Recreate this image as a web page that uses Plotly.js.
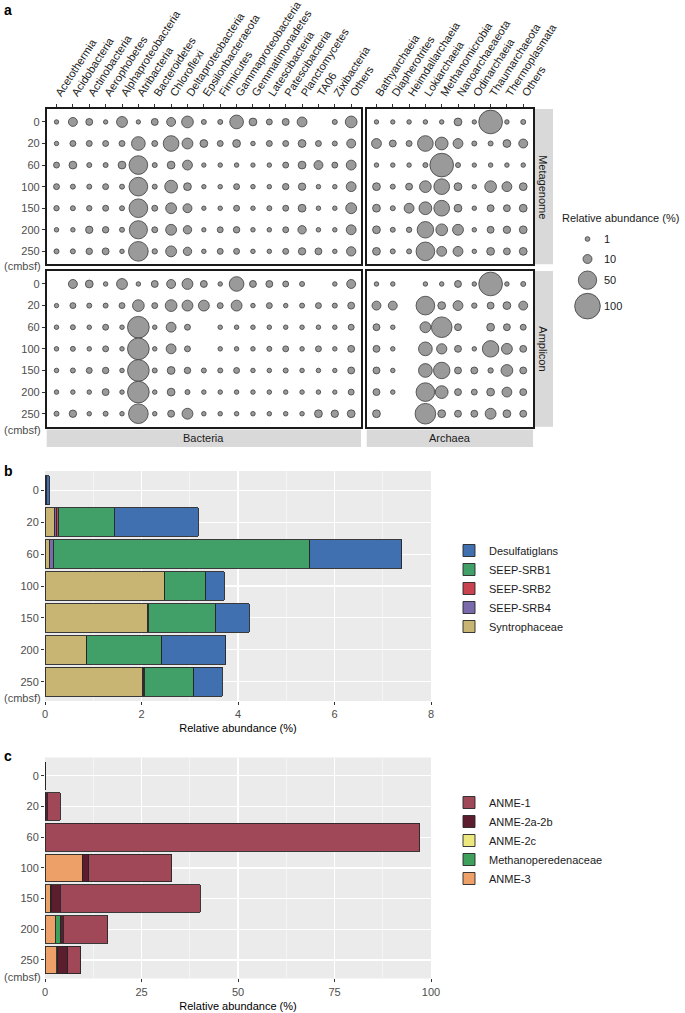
<!DOCTYPE html>
<html><head><meta charset="utf-8">
<script src="https://cdn.plot.ly/plotly-3.0.1.min.js"></script>
<style>html,body{margin:0;padding:0;background:#fff}#chart{width:685px;height:1013px}</style>
</head><body><div id="chart"></div>
<script>
// ---------------- DATA ----------------
const depths = ['0','20','60','100','150','200','250'];
const bacteriaTaxa = ['Acetothermia','Acidobacteria','Actinobacteria','Aerophobetes','Alphaproteobacteria','Atribacteria','Bacteroidetes','Chloroflexi','Deltaproteobacteria','Epsilonbacteraeota','Firmicutes','Gammaproteobacteria','Gemmatimonadetes','Latescibacteria','Patescibacteria','Planctomycetes','TA06','Zixibacteria','Others'];
const archaeaTaxa = ['Bathyarchaeia','Diapherotrites','Heimdallarchaeia','Lokiarchaeia','Methanomicrobia','Nanoarchaeaeota','Odinarchaeia','Thaumarchaeota','Thermoplasmata','Others'];

// relative abundance (%), rows = depths, null = absent
const bacteriaMetagenome = [
  [0.5,10,5,0.5,16,0.5,5,10,19,1.4,1.4,27,7,3,5,12.7,null,1.4,19],
  [0.5,3,3,3,3,27,3,36,16,7,3,7,0.7,3,3,7,3,1.4,10],
  [3,7,1.4,1.4,7,52,1.4,7,12.7,0.5,0.7,0.7,0.5,0.7,3,7,10,3,12.7],
  [3,1.4,1.4,3,1.4,52,1.4,23,7,0.5,0.7,3,0.7,0.7,4,6,0.7,0.7,12.7],
  [2,1.4,2,3,1.4,52,3,16,10,0.5,0.7,3,0.7,1.4,3,7,0.7,0.7,16],
  [0.7,0.7,6,4,1.4,49,3,16,8.5,0.5,3,4,0.7,0.7,3,8.5,0.7,0.7,12.7],
  [1.4,1.4,4,5,0.7,58,2,16,8.5,0.7,3,3,0.7,0.7,3,6,5,0.7,11]
];
const bacteriaAmplicon = [
  [null,10,7,0.7,16,0.7,5,10,16,5,0.7,31,5,5,3,1.4,null,0.7,10],
  [0.5,3,1.4,1.4,3,19,3,19,16,16,3,16,0.7,3,0.7,1.4,3,1.4,5],
  [0.7,1.4,0.7,3,0.7,71,0.7,12.7,3,null,0.7,0.7,0.7,0.7,0.7,0.7,0.7,0.7,3],
  [0.7,1.4,0.7,3,0.7,71,0.7,12.7,3,null,0.7,0.7,0.7,1.4,3,0.7,3,0.7,5],
  [0.7,1.4,3,4,0.7,71,1.4,7,4,1.4,1.4,3,0.7,0.7,1.4,0.7,0.7,0.5,5],
  [0.7,0.7,0.7,5,0.7,71,0.7,7,1.4,0.7,0.7,0.7,0.7,0.7,0.7,0.7,0.7,0.5,3],
  [1.4,6,0.7,1.4,0.7,58,0.7,5,16,0.7,0.7,0.7,0.7,0.7,0.7,0.7,7,6,7]
];
const archaeaMetagenome = [
  [0.5,0.5,0.7,0.7,0.7,7,0.5,85,0.7,1.4],
  [12.7,5,3,36,23,12.7,1.4,1.4,7,10],
  [0.7,0.7,0.7,1.4,85,1.4,0.5,0.7,0.7,0.7],
  [7,1.4,5,19,36,7,0.7,19,12.7,7],
  [7,1.4,12.7,23,36,7,0.7,5,5,7],
  [7,1.4,2,40,19,16,0.7,5,6,7],
  [7,1.4,1.4,52,12.7,12.7,0.7,7,5,7]
];
const archaeaAmplicon = [
  [0.7,0.7,null,0.7,0.7,5,0.7,85,0.7,1.4],
  [10,10,null,52,7,12.7,2,5,7,10],
  [5,0.7,null,16,64,5,null,7,5,3],
  [5,0.7,null,27,14,5,0.7,40,16,5],
  [5,0.7,null,27,40,5,5,2,19,5],
  [5,0.7,null,52,23,5,3,7,12.7,5],
  [7,null,null,64,7,5,5,16,7,5]
];
const sizeLegendValues = [1,10,50,100];

// panel b (stacked from the left)
const srbDepths = depths;
const syntrophaceae = [0,0.19,0.09,2.48,2.12,0.87,2.02];
const seepSRB4      = [0,0.04,0.08,0,0.02,0,0.02];
const seepSRB2      = [0.03,0.04,0,0,0,0,0.02];
const seepSRB1      = [0,1.17,5.32,0.85,1.40,1.55,1.02];
const desulfatiglans= [0.06,1.74,1.90,0.38,0.69,1.33,0.59];

// panel c (stacked from the left)
const anme3   = [0,0,0,9.7,1.5,2.7,2.85];
const methanoperedenaceae = [0,0,0,0,0,1.25,0];
const anme2c  = [0,0,0,0.1,0.3,0,0.3];
const anme2ab = [0.05,0.6,0,1.5,2.1,0.75,2.75];
const anme1   = [0.15,3.4,97.1,21.5,36.3,11.6,3.3];

// ---------------- LAYOUT HELPERS ----------------
const W = 685, H = 1013;
const fx = p => p / W;
const fy = p => 1 - p / H;
const FONT = 'Liberation Sans, Arial, Helvetica, sans-serif';
const dia = v => Math.sqrt(16 + 6.4 * v);
const BUBBLE = {color:'#9a9a9a', opacity:1, line:{color:'#3c3c3c', width:0.8}};

function bubbleTrace(matrix, taxa, xa, ya) {
  const x = [], y = [], s = [];
  matrix.forEach((row, i) => row.forEach((v, j) => {
    if (v !== null) { x.push(taxa[j]); y.push(depths[i]); s.push(dia(v)); }
  }));
  return {type:'scatter', mode:'markers', x, y, xaxis:xa, yaxis:ya, showlegend:false, hoverinfo:'skip',
    marker:Object.assign({size:s, sizemode:'diameter'}, BUBBLE)};
}

const traces = [
  bubbleTrace(bacteriaMetagenome, bacteriaTaxa, 'x', 'y'),
  bubbleTrace(archaeaMetagenome, archaeaTaxa, 'x2', 'y2'),
  bubbleTrace(bacteriaAmplicon, bacteriaTaxa, 'x3', 'y3'),
  bubbleTrace(archaeaAmplicon, archaeaTaxa, 'x4', 'y4')
];

// size legend
const legD = sizeLegendValues.map(dia);
const legH = legD.map(d => Math.max(20, d + 4));
const legY = [];
legD.forEach((d, i) => { legY.push(i === 0 ? 239 : legY[i-1] + (legH[i-1] + legH[i]) / 2); });
traces.push({type:'scatter', mode:'markers', x:sizeLegendValues.map(() => 587.5), y:legY, xaxis:'x7', yaxis:'y7',
  showlegend:false, hoverinfo:'skip', marker:Object.assign({size:legD, sizemode:'diameter'}, BUBBLE)});

// panel b bars
const barLine = {color:'#262626', width:0.9};
[['Syntrophaceae', syntrophaceae, '#C8B574'],
 ['SEEP-SRB4', seepSRB4, '#7A69AB'],
 ['SEEP-SRB2', seepSRB2, '#C9424F'],
 ['SEEP-SRB1', seepSRB1, '#40A067'],
 ['Desulfatiglans', desulfatiglans, '#4070AF']].forEach(([n, v, c]) => {
  traces.push({type:'bar', orientation:'h', name:n, x:v, y:srbDepths, xaxis:'x5', yaxis:'y5',
    marker:{color:c, line:barLine}, legend:'legend', hoverinfo:'skip'});
});
// panel c bars
[['ANME-3', anme3, '#EDA068'],
 ['Methanoperedenaceae', methanoperedenaceae, '#3DA15B'],
 ['ANME-2c', anme2c, '#EDE87E'],
 ['ANME-2a-2b', anme2ab, '#5C1D2F'],
 ['ANME-1', anme1, '#A14858']].forEach(([n, v, c]) => {
  traces.push({type:'bar', orientation:'h', name:n, x:v, y:depths, xaxis:'x6', yaxis:'y6',
    marker:{color:c, line:barLine}, legend:'legend2', hoverinfo:'skip'});
});

// ---------------- AXES ----------------
const boxLine = {showline:true, mirror:true, linecolor:'#1a1a1a', linewidth:1.8, showgrid:false, zeroline:false};
const tickFontA = {family:FONT, size:11, color:'#4d4d4d'};
const colFont = {family:FONT, size:11.1, color:'#1a1a1a'};
const BAC = [46.7, 361], ARC = [366.7, 533], META = [109, 264.3], AMP = [271, 426.7];

function catX(dom, taxa, anchor, labels) {
  return Object.assign({}, boxLine, {domain:[fx(dom[0]), fx(dom[1])], anchor, type:'category',
    categoryorder:'array', categoryarray:taxa, range:[-0.6, taxa.length - 0.4], autorange:false,
    side:'top', tickangle:-57, showticklabels:labels, ticks:labels ? 'outside' : '', ticklen:3, tickcolor:'#333',
    tickfont:colFont});
}
function catY(dom, anchor, labels) {
  return Object.assign({}, boxLine, {domain:[fy(dom[1]), fy(dom[0])], anchor, type:'category',
    categoryorder:'array', categoryarray:depths, range:[6.6, -0.6], autorange:false,
    showticklabels:labels, ticks:labels ? 'outside' : '', ticklen:3, tickcolor:'#333', tickfont:tickFontA});
}

const PB = {x:[45, 431], y:[471, 701]};
const PC = {x:[45, 431], y:[757.5, 978.4]};
function barX(dom, dtick, minor, range, anchor) {
  return {domain:[fx(dom.x[0]), fx(dom.x[1])], anchor, range, autorange:false, dtick, tick0:0,
    showgrid:true, gridcolor:'#ffffff', gridwidth:1.1, zeroline:false, showline:false,
    minor:{dtick:minor, showgrid:true, gridcolor:'#ffffff', gridwidth:0.5},
    ticks:'outside', ticklen:3, tickcolor:'#333', tickfont:tickFontA,
    title:{text:'Relative abundance (%)', font:{family:FONT, size:11, color:'#000'}, standoff:5}};
}
function barY(dom, anchor) {
  return {domain:[fy(dom.y[1]), fy(dom.y[0])], anchor, type:'category', categoryorder:'array',
    categoryarray:depths, range:[6.6, -0.6], autorange:false, showgrid:true, gridcolor:'#ffffff', gridwidth:1.1,
    zeroline:false, showline:false, ticks:'outside', ticklen:3, tickcolor:'#333', tickfont:tickFontA};
}

const strip = (x0, x1, y0, y1) => ({type:'rect', xref:'paper', yref:'paper', x0:fx(x0), x1:fx(x1), y0:fy(y1), y1:fy(y0),
  fillcolor:'#d9d9d9', line:{width:0}, layer:'below'});
const panelBg = (xr, yr) => ({type:'rect', xref:xr + ' domain', yref:yr + ' domain', x0:0, x1:1, y0:0, y1:1,
  fillcolor:'#EBEBEB', line:{width:0}, layer:'below'});

const ann = (text, x, y, opts) => Object.assign({text, xref:'paper', yref:'paper', x:fx(x), y:fy(y), showarrow:false,
  xanchor:'center', yanchor:'middle', font:{family:FONT, size:11, color:'#1a1a1a'}}, opts || {});
const cmbsf = y => ann('(cmbsf)', 42, y, {xanchor:'right', yanchor:'top', borderpad:0,
  font:{family:FONT, size:11, color:'#4d4d4d'}});
const sizeLabels = sizeLegendValues.map((v, i) => ({text:String(v), xref:'x7', yref:'y7', x:602, y:legY[i],
  xanchor:'left', yanchor:'middle', showarrow:false, font:{family:FONT, size:11, color:'#1a1a1a'}}));

const legendBase = {xanchor:'left', yanchor:'top', traceorder:'reversed', bgcolor:'rgba(0,0,0,0)',
  font:{family:FONT, size:11, color:'#1a1a1a'}, tracegroupgap:0, itemclick:false, itemwidth:30};

const layout = {
  width:W, height:H, margin:{l:0, r:0, t:0, b:0},
  paper_bgcolor:'#ffffff', plot_bgcolor:'rgba(0,0,0,0)',
  font:{family:FONT, size:11, color:'#1a1a1a'},
  barmode:'stack', bargap:0.1,
  xaxis:catX(BAC, bacteriaTaxa, 'y', true),
  yaxis:catY(META, 'x', true),
  xaxis2:catX(ARC, archaeaTaxa, 'y2', true),
  yaxis2:catY(META, 'x2', false),
  xaxis3:catX(BAC, bacteriaTaxa, 'y3', false),
  yaxis3:catY(AMP, 'x3', true),
  xaxis4:catX(ARC, archaeaTaxa, 'y4', false),
  yaxis4:catY(AMP, 'x4', false),
  xaxis5:barX(PB, 2, 1, [0, 8], 'y5'),
  yaxis5:barY(PB, 'x5'),
  xaxis6:barX(PC, 25, 12.5, [0, 100], 'y6'),
  yaxis6:barY(PC, 'x6'),
  xaxis7:{domain:[fx(560), fx(660)], range:[560, 660], anchor:'y7', visible:false, fixedrange:true},
  yaxis7:{domain:[fy(330), fy(225)], range:[330, 225], anchor:'x7', visible:false, fixedrange:true},
  legend:Object.assign({x:fx(449), y:fy(536)}, legendBase),
  legend2:Object.assign({x:fx(449), y:fy(788)}, legendBase),
  shapes:[
    strip(534, 553, META[0], META[1]), strip(534, 553, AMP[0], AMP[1]),
    strip(BAC[0], BAC[1], 429.5, 447), strip(ARC[0], ARC[1], 429.5, 447),
    panelBg('x5', 'y5'), panelBg('x6', 'y6')
  ],
  annotations:[
    ann('<b>a</b>', 2, 10, {xanchor:'left', font:{family:FONT, size:14, color:'#000'}}),
    ann('<b>b</b>', 2, 471, {xanchor:'left', font:{family:FONT, size:14, color:'#000'}}),
    ann('<b>c</b>', 2, 756, {xanchor:'left', font:{family:FONT, size:14, color:'#000'}}),
    ann('Metagenome', 543.5, (META[0] + META[1]) / 2, {textangle:90}),
    ann('Amplicon', 543.5, (AMP[0] + AMP[1]) / 2, {textangle:90}),
    ann('Bacteria', (BAC[0] + BAC[1]) / 2, 438.5),
    ann('Archaea', (ARC[0] + ARC[1]) / 2, 438.5),
    cmbsf(259), cmbsf(423), cmbsf(691), cmbsf(970),
    ann('Relative abundance (%)', 560, 218, {xanchor:'left'})
  ].concat(sizeLabels)
};

Plotly.newPlot('chart', traces, layout, {staticPlot:true});
</script>
</body></html>
